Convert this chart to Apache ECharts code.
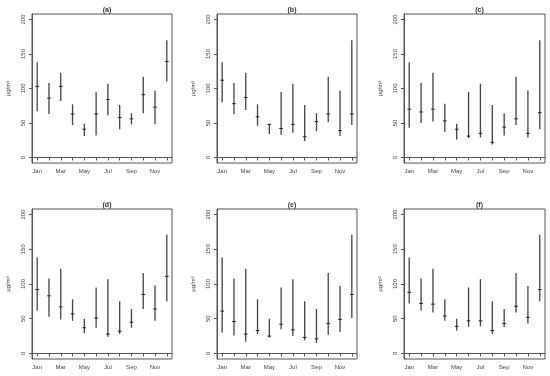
<!DOCTYPE html>
<html><head><meta charset="utf-8">
<script src="https://cdn.jsdelivr.net/npm/echarts@6/dist/echarts.min.js"></script>
<style>html,body{margin:0;padding:0;background:#fff}#c{width:550px;height:376px}</style>
</head><body><div id="c"></div>
<script>
const months = ['Jan','Feb','Mar','Apr','May','Jun','Jul','Aug','Sep','Oct','Nov','Dec'];
const yTicks = [0, 50, 100, 150, 200];
const panelTitles = ['(a)','(b)','(c)','(d)','(e)','(f)'];

const aHigh = [138,108,123,77,49,95,107,76,64,117,97,170];
const aLow  = [67,63,82,47,31,32,61,41,48,64,48,110];
const aMid  = [103,86,103,63,41,63,84,58,56,91,73,139];

const bHigh = [138,108,123,77,49,95,107,76,64,117,97,170];
const bLow  = [80,63,69,46,34,33,36,24,38,51,31,47];
const bMid  = [112,78,87,59,48,42,48,30,52,63,39,63];

const cHigh = [138,108,123,78,49,95,107,76,64,117,97,170];
const cLow  = [43,50,52,37,26,28,29,19,32,47,29,41];
const cMid  = [70,66,70,53,41,31,35,22,44,56,35,65];

const dHigh = [138,108,122,78,50,95,107,75,64,116,98,171];
const dLow  = [62,53,49,47,29,37,24,28,37,64,47,75];
const dMid  = [92,83,67,57,37,51,28,32,45,85,64,111];

const eHigh = [138,108,122,78,50,95,107,75,64,116,97,171];
const eLow  = [30,26,17,28,23,35,25,19,15,27,31,51];
const eMid  = [61,46,28,33,25,42,34,23,21,43,49,85];

const fHigh = [138,108,122,78,50,95,107,75,64,116,97,171];
const fLow  = [72,62,59,47,33,38,39,28,38,59,43,75];
const fMid  = [88,72,71,54,39,47,47,33,43,68,52,92];

const panels = [[aLow,aHigh,aMid],[bLow,bHigh,bMid],[cLow,cHigh,cMid],
                [dLow,dHigh,dMid],[eLow,eHigh,eMid],[fLow,fHigh,fMid]];

const boxes = [
  {l:32, r:172, t:14, b:163},
  {l:217, r:357, t:14, b:163},
  {l:404, r:545, t:14, b:163},
  {l:32, r:172, t:209, b:359},
  {l:217, r:357, t:209, b:359},
  {l:404, r:545, t:209, b:359}
];

const txt = '#444';
const font = 'Liberation Sans, Arial, sans-serif';
const grid = [], xAxis = [], yAxis = [], series = [], title = [];
boxes.forEach((bx, i) => {
  grid.push({left: bx.l, top: bx.t, width: bx.r - bx.l, height: bx.b - bx.t,
    show: true, borderColor: '#555', borderWidth: 1, backgroundColor: 'transparent'});
  title.push({text: panelTitles[i], left: (bx.l + bx.r) / 2, top: bx.t - 12, textAlign: 'center',
    textStyle: {fontSize: 7, fontWeight: 'bold', color: '#333', fontFamily: font}});
  xAxis.push({gridIndex: i, type: 'value', min: 0.56, max: 12.44,
    axisLine: {show: true, lineStyle: {color: '#555', width: 1}},
    axisTick: {show: true, length: 3, customValues: months.map((m, k) => k + 1), lineStyle: {color: '#555'}},
    axisLabel: {customValues: [1,3,5,7,9,11], formatter: v => months[Math.round(v) - 1],
      fontSize: 6, color: txt, fontFamily: font, margin: 5},
    splitLine: {show: false}});
  yAxis.push({gridIndex: i, type: 'value', min: -8, max: 208,
    name: 'μg/m³', nameLocation: 'middle', nameRotate: 90, nameGap: 21,
    nameTextStyle: {fontSize: 6, color: txt, fontFamily: font},
    axisLine: {show: true, lineStyle: {color: '#555', width: 1}},
    axisTick: {show: true, length: 3, customValues: yTicks, lineStyle: {color: '#555'}},
    axisLabel: {customValues: yTicks, rotate: 90, fontSize: 6, color: txt, fontFamily: font, margin: 6},
    splitLine: {show: false}});
  const [lo, hi, md] = panels[i];
  series.push({type: 'custom', xAxisIndex: i, yAxisIndex: i, silent: true,
    data: months.map((m, k) => [k + 1, lo[k], hi[k], md[k]]),
    renderItem: (params, api) => {
      const x = api.value(0);
      const pLo = api.coord([x, api.value(1)]);
      const pHi = api.coord([x, api.value(2)]);
      const pMd = api.coord([x, api.value(3)]);
      return {type: 'group', children: [
        {type: 'line', shape: {x1: pLo[0], y1: pLo[1], x2: pHi[0], y2: pHi[1]},
          style: {stroke: '#444', lineWidth: 1.3}},
        {type: 'line', shape: {x1: pMd[0] - 1.8, y1: pMd[1], x2: pMd[0] + 1.8, y2: pMd[1]},
          style: {stroke: '#222', lineWidth: 1}}
      ]};
    }});
});

const chart = echarts.init(document.getElementById('c'), null, {renderer: 'canvas'});
chart.setOption({animation: false, backgroundColor: '#fff', title, grid, xAxis, yAxis, series});
</script></body></html>
